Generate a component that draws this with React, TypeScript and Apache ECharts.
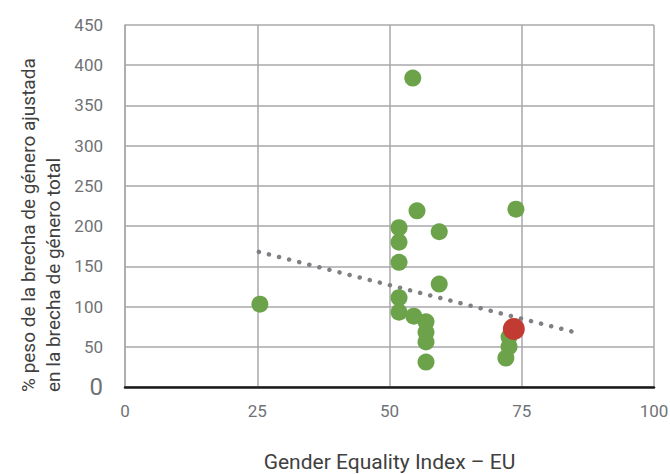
import React, { useEffect, useRef } from "react";
import * as echarts from "echarts";

const countries: [number, number][] = [
  [25.5, 103],
  [54.4, 384],
  [55.2, 219],
  [73.9, 221],
  [51.8, 198],
  [51.8, 180],
  [59.4, 193],
  [51.8, 155],
  [59.4, 128],
  [51.8, 111],
  [51.8, 93],
  [54.6, 88],
  [56.9, 81],
  [56.9, 68],
  [56.9, 56],
  [56.9, 31],
  [72.0, 36],
  [72.6, 50],
  [72.6, 62],
];
const highlight: [number, number][] = [[73.5, 72]];
const trend: [number, number][] = [
  [25.3, 168],
  [84.5, 69],
];
const xTicks = [0, 25, 50, 75, 100];
const yTicks = [0, 50, 100, 150, 200, 250, 300, 350, 400, 450];
const yTitle = "% peso de la brecha de género ajustada\nen la brecha de género total";
const xTitle = "Gender Equality Index – EU";

const FONT = "Roboto";

export default function App() {
  const ref = useRef<HTMLDivElement>(null);
  useEffect(() => {
    if (!ref.current) return;
    const chart = echarts.init(ref.current, null, { renderer: "svg" });
    chart.setOption({
      animation: false,
      grid: { left: 125, right: 16, top: 25, bottom: 87, containLabel: false, outerBoundsMode: "none" },
      graphic: [
        {
          type: "text",
          x: 41,
          y: 392,
          rotation: Math.PI / 2,
          style: {
            text: yTitle,
            fontFamily: FONT,
            fontSize: 19,
            lineHeight: 25,
            fill: "#404040",
            align: "left",
            verticalAlign: "middle",
          },
        },
      ],
      xAxis: {
        type: "value",
        min: xTicks[0],
        max: xTicks[xTicks.length - 1],
        interval: 25,
        name: xTitle,
        nameLocation: "middle",
        nameGap: 64,
        nameTextStyle: { fontFamily: FONT, fontSize: 21, color: "#404040" },
        axisLine: { show: true, lineStyle: { color: "#1a1a1a", width: 2.5 } },
        axisTick: { show: false },
        axisLabel: { fontFamily: FONT, fontSize: 17, color: "#707276", margin: 15 },
        splitLine: { show: true, lineStyle: { color: "#a8a9ad", width: 1.5 } },
      },
      yAxis: {
        type: "value",
        min: yTicks[0],
        max: yTicks[yTicks.length - 1],
        interval: 50,
        axisLine: { show: true, lineStyle: { color: "#a8a9ad", width: 1.5 } },
        axisTick: { show: false },
        axisLabel: {
          fontFamily: FONT,
          fontSize: 17,
          color: "#707276",
          margin: 22,
          formatter: (v: number) => (v === 0 ? "{z|0}" : String(v)),
          rich: { z: { fontFamily: FONT, fontSize: 24, color: "#707276" } },
        },
        splitLine: { show: true, lineStyle: { color: "#a8a9ad", width: 1.5 } },
      },
      series: [
        {
          type: "line",
          data: trend,
          symbol: "none",
          lineStyle: { color: "#7f8084", width: 4.5, type: [0.1, 10.3], cap: "round" },
          z: 3,
        },
        {
          type: "scatter",
          data: countries,
          symbolSize: 17,
          itemStyle: { color: "#6ca34a", opacity: 1 },
          z: 4,
        },
        {
          type: "scatter",
          data: highlight,
          symbolSize: 22,
          itemStyle: { color: "#c23b32", opacity: 1 },
          z: 5,
        },
      ],
    });
    return () => chart.dispose();
  }, []);
  return (
    <div ref={ref} style={{ width: 670, height: 474, position: "absolute", left: 0, top: 0 }} />
  );
}
